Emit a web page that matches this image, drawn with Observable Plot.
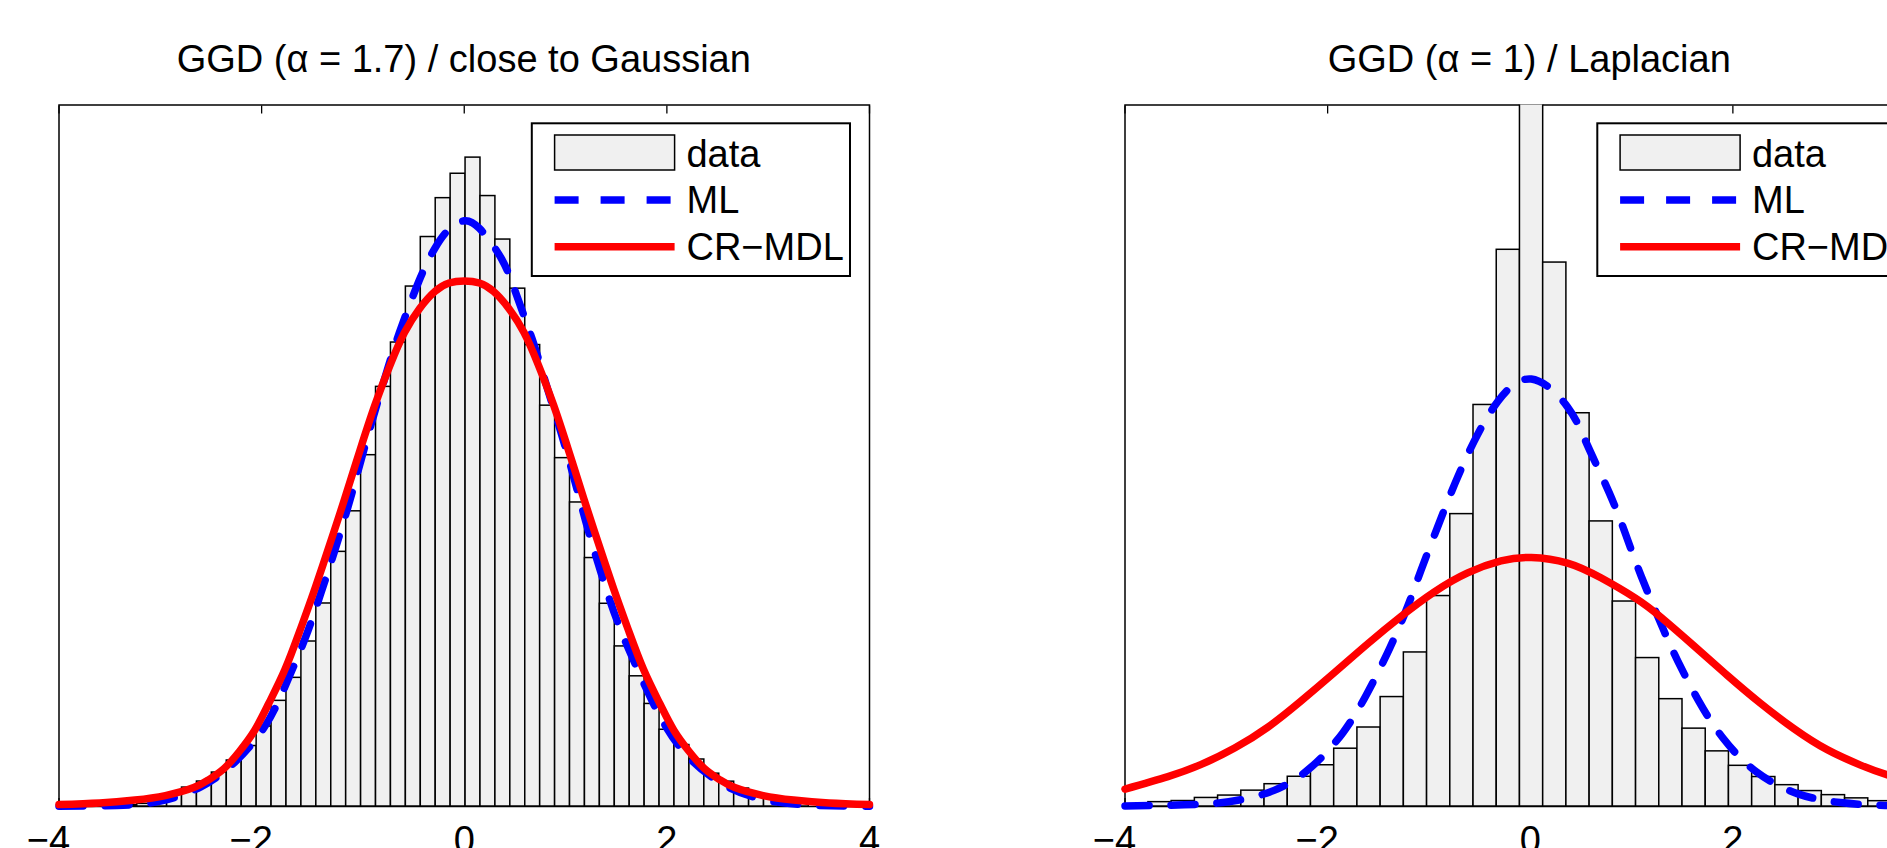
<!DOCTYPE html>
<html><head><meta charset="utf-8">
<script src="https://cdn.jsdelivr.net/npm/d3@7"></script>
<script src="https://cdn.jsdelivr.net/npm/@observablehq/plot@0.6"></script>
<style>
html,body{margin:0;padding:0;background:#fff;}
#wrap{position:relative;width:1887px;height:848px;overflow:hidden;background:#fff;}
#wrap > svg{position:absolute;}
</style></head><body><div id="wrap"></div>
<script>
// ---------- data ----------
const xTicks = [-4, -2, 0, 2, 4];
const titles = ["GGD (\u03b1 = 1.7) / close to Gaussian", "GGD (\u03b1 = 1) / Laplacian"];
const legendLabels = ["data", "ML", "CR\u2212MDL"];

// left panel: histogram (uniform bins)
const leftBinStart = -3.375, leftBinWidth = 0.1473;
const leftCounts = [0.0009,0.0019,0.0039,0.0086,0.0135,0.0178,0.0242,0.0328,0.0431,0.0570,
  0.0753,0.0917,0.1176,0.1447,0.1815,0.2104,0.2504,0.2991,0.3307,0.3706,0.4059,0.4336,0.4510,
  0.4625,0.4351,0.4041,0.3691,0.3289,0.2857,0.2483,0.2167,0.1771,0.1445,0.1141,0.0928,0.0731,
  0.0547,0.0438,0.0335,0.0234,0.0177,0.0128,0.0091,0.0061,0.0036,0.0021];
// left panel: ML fit (dashed blue)
const leftMLx = [-4.0,-3.43,-3.0,-2.60,-2.27,-1.96,-1.74,-1.57,-1.42,-1.28,-1.15,-1.06,-0.915,-0.76,-0.64,-0.45,-0.293,-0.15,0.0,
  0.15,0.371,0.516,0.671,0.81,0.951,1.072,1.198,1.289,1.444,1.609,1.797,1.994,2.257,2.629,3.056,3.5,4.0];
const leftMLy = [0.0001,0.0008,0.0038,0.0140,0.0312,0.0580,0.0905,0.1200,0.1510,0.1820,0.2130,0.2360,0.2735,0.3110,0.3378,0.3740,0.3975,0.4115,0.4175,
  0.4120,0.3900,0.3645,0.3330,0.3005,0.2675,0.2370,0.2035,0.1810,0.1455,0.1145,0.0840,0.0565,0.0320,0.0130,0.0035,0.0008,0.0001];
// left panel: CR-MDL fit (solid red)
const leftCRx = [-4.0,-3.6,-3.25,-2.95,-2.67,-2.52,-2.37,-2.22,-2.07,-1.93,-1.77,-1.62,-1.47,-1.29,-1.18,-1.03,-0.88,-0.73,-0.59,-0.44,-0.29,-0.15,0.0,
  0.15,0.29,0.44,0.59,0.73,0.88,1.03,1.18,1.29,1.47,1.62,1.77,1.93,2.07,2.22,2.37,2.52,2.67,2.95,3.25,3.6,4.0];
const leftCRy = [0.0014,0.0025,0.0046,0.0078,0.0135,0.0192,0.0271,0.0392,0.0542,0.0734,0.0976,0.1258,0.1561,0.1950,0.2195,0.2537,0.2865,0.3150,0.3378,0.3550,0.3671,0.3731,0.3746,
  0.3731,0.3671,0.3550,0.3378,0.3150,0.2865,0.2537,0.2195,0.1950,0.1561,0.1258,0.0976,0.0734,0.0542,0.0392,0.0271,0.0192,0.0135,0.0078,0.0046,0.0025,0.0014];

// right panel: histogram (uniform bins)
const rightBinStart = -3.998, rightBinWidth = 0.2292;
const rightCounts = [0.0014,0.0031,0.0039,0.0061,0.0078,0.0113,0.0159,0.0212,0.0294,0.0412,0.0563,0.0780,
  0.1098,0.1500,0.2084,0.2862,0.3968,0.5600,0.3877,0.2803,0.2032,0.1461,0.1058,0.0765,0.0555,0.0393,
  0.0290,0.0210,0.0152,0.0110,0.0081,0.0058,0.0038,0.0029];
// right panel: ML fit
const rightMLx = [-4.0,-3.416,-2.976,-2.528,-2.16,-1.847,-1.617,-1.41,-1.226,-1.08,-0.912,-0.744,-0.553,-0.317,0.01,
  0.368,0.565,0.778,0.943,1.097,1.32,1.459,1.665,1.912,2.231,2.635,3.06,3.5,4.0];
const rightMLy = [0.0004,0.0012,0.0034,0.0115,0.0282,0.0528,0.0797,0.1093,0.1397,0.1680,0.1997,0.2301,0.2604,0.2890,0.3047,
  0.2848,0.2574,0.2239,0.1937,0.1639,0.1252,0.1033,0.0749,0.0479,0.0247,0.0092,0.0028,0.0008,0.0003];
// right panel: CR-MDL fit
const rightCRx = [-4.0,-3.576,-3.247,-2.918,-2.589,-2.261,-1.932,-1.604,-1.275,-0.946,-0.618,-0.289,0.01,
  0.368,0.697,1.038,1.288,1.616,1.945,2.274,2.602,2.931,3.26,3.526,4.0];
const rightCRy = [0.0124,0.0213,0.0300,0.0417,0.0566,0.0753,0.0955,0.1160,0.1355,0.1530,0.1665,0.1750,0.1775,
  0.1735,0.1630,0.1485,0.1350,0.1145,0.0935,0.0735,0.0555,0.0405,0.0295,0.0225,0.0124];

// ---------- drawing ----------
const FONT = "'Liberation Sans', Arial, Helvetica, sans-serif";
const FS = 38;
const LW = 7.5;
const W = 900, H = 900, ML = 58.5, MR = 31, MT = 104.5, MB = 94;
const wrap = document.getElementById("wrap");

const toBins = (start, w, ys) => ys.map((y, i) => ({x1: start + i * w, x2: start + (i + 1) * w, y}));
const toPts = (xs, ys) => xs.map((x, i) => ({x, y: ys[i]}));
const fmt = d => d < 0 ? "\u2212" + (-d) : String(d);

function panel(bins, ml, cr) {
  return Plot.plot({
    width: W, height: H,
    marginLeft: ML, marginRight: MR, marginTop: MT, marginBottom: MB,
    x: {domain: [-4, 4]},
    y: {domain: [0, 0.5], axis: null},
    style: {background: "transparent", overflow: "visible", maxWidth: "none", fontFamily: FONT, fontSize: FS + "px", color: "black"},
    marks: [
      Plot.axisX({anchor: "top", ticks: xTicks, tickSize: 8, dy: 8, tickFormat: () => "", label: null, strokeWidth: 1.3}),
      Plot.axisX({anchor: "bottom", ticks: xTicks, tickSize: 8, dy: -8, tickFormat: () => "", label: null, strokeWidth: 1.3}),
      Plot.axisX({anchor: "bottom", ticks: xTicks.filter(d => d < 0), tickSize: 0, tickPadding: 20, dx: -10.5, tickFormat: fmt, fontSize: FS, label: null}),
      Plot.axisX({anchor: "bottom", ticks: xTicks.filter(d => d >= 0), tickSize: 0, tickPadding: 20, tickFormat: fmt, fontSize: FS, label: null}),
      Plot.frame({stroke: "black", strokeWidth: 1.5}),
      Plot.rectY(bins, {x1: "x1", x2: "x2", y: "y", fill: "#f0f0f0", stroke: "black", strokeWidth: 1.5, clip: true}),
      Plot.line(ml, {x: "x", y: "y", stroke: "#0000ff", strokeWidth: LW, strokeDasharray: "24,22", curve: "natural"}),
      Plot.line(cr, {x: "x", y: "y", stroke: "#ff0000", strokeWidth: LW, curve: "natural"})
    ]
  });
}

const left = panel(toBins(leftBinStart, leftBinWidth, leftCounts), toPts(leftMLx, leftMLy), toPts(leftCRx, leftCRy));
left.style.left = "0px"; left.style.top = "0px"; left.style.position = "absolute";
wrap.appendChild(left);

const rightOffset = 1065.5;
const right = panel(toBins(rightBinStart, rightBinWidth, rightCounts), toPts(rightMLx, rightMLy), toPts(rightCRx, rightCRy));
right.style.left = rightOffset + "px"; right.style.top = "0px"; right.style.position = "absolute";
wrap.appendChild(right);

// titles and legends overlay
const ov = d3.select(wrap).append("svg")
  .attr("width", 1887).attr("height", 848)
  .style("position", "absolute").style("left", "0px").style("top", "0px")
  .style("pointer-events", "none")
  .attr("font-family", FONT).attr("font-size", FS);

[0, rightOffset].forEach((off, p) => {
  const g = ov.append("g").attr("transform", `translate(${off},0)`);
  g.append("text").attr("x", ML + (W - ML - MR) / 2).attr("y", 71.5)
    .attr("text-anchor", "middle").attr("fill", "black").text(titles[p]);
  const lg = g.append("g").attr("transform", "translate(531.8,123.3)");
  lg.append("rect").attr("x", 0).attr("y", 0).attr("width", 318.2).attr("height", 152.7)
    .attr("fill", "white").attr("stroke", "black").attr("stroke-width", 2);
  lg.append("rect").attr("x", 22.8).attr("y", 11.7).attr("width", 120).attr("height", 35)
    .attr("fill", "#f0f0f0").attr("stroke", "black").attr("stroke-width", 1.5);
  lg.append("line").attr("x1", 22.8).attr("x2", 142.8).attr("y1", 76.7).attr("y2", 76.7)
    .attr("stroke", "#0000ff").attr("stroke-width", LW).attr("stroke-dasharray", "24,22");
  lg.append("line").attr("x1", 22.8).attr("x2", 142.8).attr("y1", 123.4).attr("y2", 123.4)
    .attr("stroke", "#ff0000").attr("stroke-width", LW);
  [43.4, 90, 136.7].forEach((y, i) => {
    lg.append("text").attr("x", 154.7).attr("y", y).attr("fill", "black").text(legendLabels[i]);
  });
});
</script></body></html>
